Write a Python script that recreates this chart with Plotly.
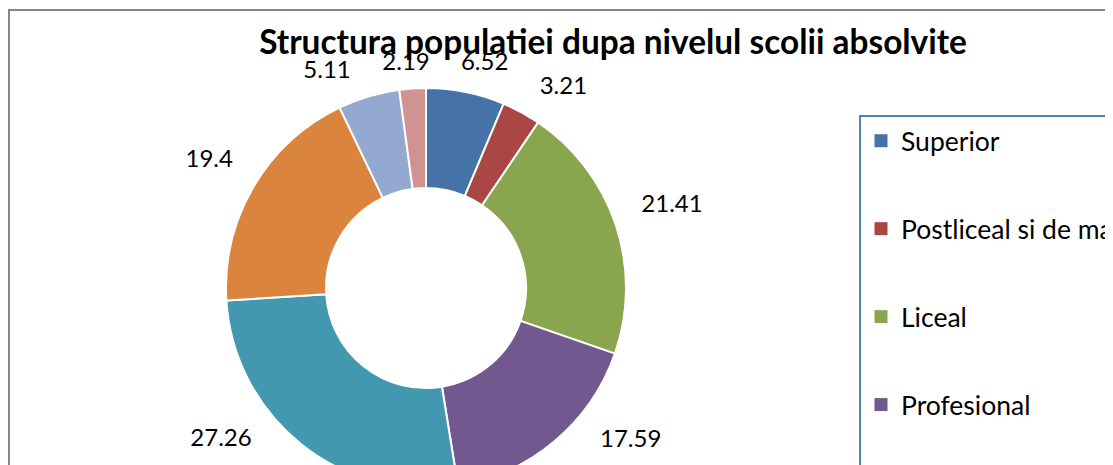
import math
import plotly.graph_objects as go

# ---- data ----
categories = ["Superior", "Postliceal si de maistri", "Liceal", "Profesional",
              "Gimnazial", "Primar", "Fara scoala absolvita", "Analfabeti"]
values = [6.52, 3.21, 21.41, 17.59, 27.26, 19.4, 5.11, 2.19]
colors = ["#4572A7", "#AA4643", "#89A54E", "#71588F",
          "#4198AF", "#DB843D", "#93A9CF", "#D19392"]
title_text = "Structura populatiei dupa nivelul scolii absolvite"

# ---- layout geometry (pixels inside the figure) ----
W, H = 1300, 900
CX, CY, R = 418, 280, 200          # donut centre / radius (px)
FONT = "Lato, Carlito, Calibri, 'Open Sans', sans-serif"
LABEL_SIZE = 24
Y_LIMIT = 153                      # lowest label centre below donut centre (plot-area bottom)
R_AXIS_MAX = 1.35                  # hidden radial axis range, in donut radii
PAD = 30                           # minimum horizontal gap between neighbouring labels


def dom(r):
    return dict(x=[(CX - r) / W, (CX + r) / W],
                y=[1 - (CY + r) / H, 1 - (CY - r) / H])


# ---- "outside end" data-label placement derived from the values ----
label_text = [f"{v:g}" for v in values]
total = sum(values)


def half_size(txt):
    ndig = sum(ch.isdigit() for ch in txt)
    hw = (0.58 * LABEL_SIZE * ndig + 0.26 * LABEL_SIZE * txt.count(".")) / 2
    return hw, 0.5 * LABEL_SIZE


def label_radius(theta_deg, txt):
    s, c = abs(math.sin(math.radians(theta_deg))), abs(math.cos(math.radians(theta_deg)))
    hw, hh = half_size(txt)
    return R + 9 + 18 * s + hw * s + hh * c


def centre(theta_deg, txt):
    r = label_radius(theta_deg, txt)
    return r * math.sin(math.radians(theta_deg)), -r * math.cos(math.radians(theta_deg))


def clamp(theta_deg, txt):
    # keep labels inside the plot area: rotate bottom labels towards horizontal
    while centre(theta_deg, txt)[1] > Y_LIMIT:
        theta_deg += -0.25 if (theta_deg % 360) < 180 else 0.25
    return theta_deg


label_theta = []
cum = 0.0
for v, txt in zip(values, label_text):
    label_theta.append(clamp((cum + v / 2) / total * 360.0, txt))
    cum += v

# spread neighbouring labels that crowd each other
n = len(values)
for _ in range(600):
    moved = False
    for i in range(n):
        j = (i + 1) % n
        xi, yi = centre(label_theta[i], label_text[i])
        xj, yj = centre(label_theta[j], label_text[j])
        hwi, hhi = half_size(label_text[i])
        hwj, hhj = half_size(label_text[j])
        if abs(yi - yj) < hhi + hhj and abs(xi - xj) < hwi + hwj + PAD:
            label_theta[i] = clamp(label_theta[i] - 0.25, label_text[i])
            label_theta[j] = clamp(label_theta[j] + 0.25, label_text[j])
            moved = True
    if not moved:
        break

label_r = [label_radius(t, s) / R for t, s in zip(label_theta, label_text)]

fig = go.Figure()

# donut
fig.add_trace(go.Pie(
    labels=categories,
    values=values,
    sort=False,
    direction="clockwise",
    rotation=0,
    hole=0.5,
    marker=dict(colors=colors, line=dict(color="white", width=2)),
    textinfo="none",
    showlegend=False,
    domain=dom(R),
))

# value labels on a hidden polar axis sharing the donut's centre
fig.add_trace(go.Scatterpolar(
    r=label_r, theta=label_theta, text=label_text,
    mode="text", textposition="middle center",
    textfont=dict(family=FONT, size=LABEL_SIZE, color="black"),
    cliponaxis=False, showlegend=False, hoverinfo="skip",
))

# legend entries (one group per category so they can be spaced apart)
for name, col in zip(categories, colors):
    fig.add_trace(go.Scatter(
        x=[None], y=[None], mode="markers", name=name,
        legendgroup=name, showlegend=True,
        marker=dict(symbol="square", size=13, color=col),
    ))

fig.update_layout(
    width=W, height=H,
    margin=dict(l=0, r=0, t=0, b=0),
    paper_bgcolor="white", plot_bgcolor="white",
    xaxis=dict(visible=False), yaxis=dict(visible=False),
    polar=dict(domain=dom(R * R_AXIS_MAX), bgcolor="rgba(0,0,0,0)",
               radialaxis=dict(visible=False, range=[0, R_AXIS_MAX]),
               angularaxis=dict(visible=False, rotation=90, direction="clockwise")),
    title=dict(text="<b>" + title_text + "</b>",
               x=605 / W, xanchor="center", y=1 - 34 / H, yanchor="middle",
               font=dict(family=FONT, size=33.4, color="black")),
    legend=dict(x=851 / W, xanchor="left", y=1 - 107 / H, yanchor="top",
                bordercolor="#4F81BD", borderwidth=2,
                font=dict(family=FONT, size=26.5, color="black"),
                tracegroupgap=50.5, traceorder="grouped",
                itemclick=False, itemdoubleclick=False),
    shapes=[dict(type="rect", xref="paper", yref="paper",
                 x0=1 / W, x1=1 - 2 / W, y0=2 / H, y1=1 - 2 / H,
                 line=dict(color="#878787", width=2), layer="below")],
)

fig.write_html("out.html",
               post_script="document.body.style.overflow='hidden';"
                           "document.documentElement.style.overflow='hidden';")
